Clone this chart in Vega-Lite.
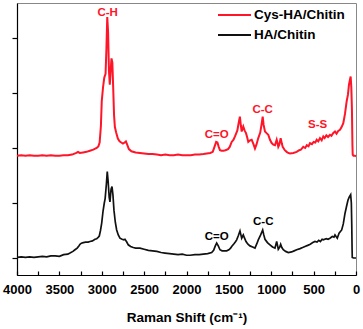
{
  "$schema": "https://vega.github.io/schema/vega-lite/v6.json",
  "width": 339,
  "height": 272,
  "autosize": {"type": "none"},
  "padding": {"left": 17, "top": 3, "right": 7, "bottom": 54},
  "background": "white",
  "config": {
    "font": "Liberation Sans",
    "view": {"stroke": "#888888", "strokeWidth": 1},
    "axis": {"grid": false, "domainColor": "#000000", "domainWidth": 1.2, "tickColor": "#000000", "tickWidth": 1.2}
  },
  "datasets": {
    "red": [
      {"shift":4000,"intensity":1.86},{"shift":3950,"intensity":1.87},{"shift":3900,"intensity":1.86},{"shift":3850,"intensity":1.87},{"shift":3800,"intensity":1.86},{"shift":3750,"intensity":1.86},{"shift":3700,"intensity":1.87},{"shift":3650,"intensity":1.86},{"shift":3600,"intensity":1.87},{"shift":3550,"intensity":1.86},{"shift":3500,"intensity":1.86},{"shift":3450,"intensity":1.87},{"shift":3400,"intensity":1.87},{"shift":3350,"intensity":1.88},{"shift":3300,"intensity":1.91},{"shift":3280,"intensity":1.93},{"shift":3260,"intensity":1.91},{"shift":3220,"intensity":1.92},{"shift":3180,"intensity":1.93},{"shift":3140,"intensity":1.95},{"shift":3100,"intensity":1.97},{"shift":3060,"intensity":2.0},{"shift":3040,"intensity":2.03},{"shift":3025,"intensity":2.1},{"shift":3010,"intensity":2.4},{"shift":3000,"intensity":2.85},{"shift":2985,"intensity":3.1},{"shift":2970,"intensity":3.28},{"shift":2955,"intensity":3.35},{"shift":2945,"intensity":3.8},{"shift":2935,"intensity":4.38},{"shift":2925,"intensity":4.1},{"shift":2915,"intensity":3.4},{"shift":2905,"intensity":3.15},{"shift":2895,"intensity":3.4},{"shift":2885,"intensity":3.63},{"shift":2875,"intensity":3.55},{"shift":2865,"intensity":3.1},{"shift":2855,"intensity":2.6},{"shift":2845,"intensity":2.38},{"shift":2830,"intensity":2.28},{"shift":2810,"intensity":2.17},{"shift":2790,"intensity":2.12},{"shift":2770,"intensity":2.1},{"shift":2750,"intensity":2.08},{"shift":2730,"intensity":2.1},{"shift":2715,"intensity":2.12},{"shift":2700,"intensity":2.06},{"shift":2680,"intensity":1.98},{"shift":2650,"intensity":1.94},{"shift":2600,"intensity":1.92},{"shift":2550,"intensity":1.91},{"shift":2500,"intensity":1.9},{"shift":2450,"intensity":1.89},{"shift":2400,"intensity":1.89},{"shift":2350,"intensity":1.88},{"shift":2300,"intensity":1.87},{"shift":2250,"intensity":1.88},{"shift":2200,"intensity":1.87},{"shift":2150,"intensity":1.87},{"shift":2100,"intensity":1.88},{"shift":2050,"intensity":1.87},{"shift":2000,"intensity":1.87},{"shift":1950,"intensity":1.87},{"shift":1900,"intensity":1.88},{"shift":1850,"intensity":1.88},{"shift":1800,"intensity":1.89},{"shift":1760,"intensity":1.9},{"shift":1720,"intensity":1.91},{"shift":1690,"intensity":1.93},{"shift":1670,"intensity":2.02},{"shift":1650,"intensity":2.11},{"shift":1635,"intensity":2.1},{"shift":1620,"intensity":2.02},{"shift":1605,"intensity":1.96},{"shift":1585,"intensity":1.95},{"shift":1565,"intensity":1.95},{"shift":1540,"intensity":1.96},{"shift":1510,"intensity":1.98},{"shift":1490,"intensity":2.02},{"shift":1467,"intensity":2.11},{"shift":1445,"intensity":2.15},{"shift":1428,"intensity":2.21},{"shift":1410,"intensity":2.28},{"shift":1400,"intensity":2.32},{"shift":1385,"intensity":2.45},{"shift":1370,"intensity":2.57},{"shift":1358,"intensity":2.4},{"shift":1349,"intensity":2.3},{"shift":1340,"intensity":2.34},{"shift":1330,"intensity":2.39},{"shift":1315,"intensity":2.32},{"shift":1298,"intensity":2.27},{"shift":1285,"intensity":2.2},{"shift":1271,"intensity":2.11},{"shift":1250,"intensity":2.14},{"shift":1231,"intensity":2.15},{"shift":1210,"intensity":2.07},{"shift":1192,"intensity":1.99},{"shift":1175,"intensity":2.06},{"shift":1153,"intensity":2.18},{"shift":1130,"intensity":2.28},{"shift":1112,"intensity":2.45},{"shift":1101,"intensity":2.57},{"shift":1090,"intensity":2.42},{"shift":1074,"intensity":2.3},{"shift":1055,"intensity":2.27},{"shift":1035,"intensity":2.24},{"shift":1015,"intensity":2.15},{"shift":995,"intensity":2.09},{"shift":975,"intensity":2.06},{"shift":956,"intensity":2.05},{"shift":936,"intensity":2.15},{"shift":925,"intensity":2.08},{"shift":917,"intensity":2.02},{"shift":905,"intensity":2.06},{"shift":889,"intensity":2.18},{"shift":875,"intensity":2.08},{"shift":865,"intensity":2.02},{"shift":840,"intensity":1.96},{"shift":818,"intensity":1.93},{"shift":800,"intensity":1.91},{"shift":779,"intensity":1.9},{"shift":740,"intensity":1.91},{"shift":700,"intensity":1.93},{"shift":670,"intensity":1.96},{"shift":650,"intensity":1.97},{"shift":622,"intensity":2.02},{"shift":600,"intensity":2.0},{"shift":580,"intensity":2.05},{"shift":560,"intensity":2.03},{"shift":543,"intensity":2.09},{"shift":520,"intensity":2.07},{"shift":500,"intensity":2.11},{"shift":480,"intensity":2.1},{"shift":464,"intensity":2.15},{"shift":445,"intensity":2.12},{"shift":425,"intensity":2.18},{"shift":405,"intensity":2.14},{"shift":386,"intensity":2.21},{"shift":370,"intensity":2.18},{"shift":350,"intensity":2.23},{"shift":330,"intensity":2.2},{"shift":307,"intensity":2.24},{"shift":290,"intensity":2.22},{"shift":270,"intensity":2.27},{"shift":248,"intensity":2.3},{"shift":230,"intensity":2.26},{"shift":210,"intensity":2.31},{"shift":189,"intensity":2.33},{"shift":170,"intensity":2.38},{"shift":150,"intensity":2.45},{"shift":130,"intensity":2.62},{"shift":110,"intensity":2.85},{"shift":95,"intensity":2.97},{"shift":83,"intensity":3.15},{"shift":70,"intensity":3.25},{"shift":63,"intensity":3.3},{"shift":55,"intensity":3.1},{"shift":48,"intensity":2.7},{"shift":42,"intensity":2.05},{"shift":39,"intensity":1.88},{"shift":30,"intensity":1.86},{"shift":15,"intensity":1.86},{"shift":0,"intensity":1.85}
    ],
    "black": [
      {"shift":4000,"intensity":0.01},{"shift":3950,"intensity":0.02},{"shift":3900,"intensity":0.01},{"shift":3850,"intensity":0.02},{"shift":3800,"intensity":0.01},{"shift":3750,"intensity":0.02},{"shift":3700,"intensity":0.03},{"shift":3650,"intensity":0.02},{"shift":3600,"intensity":0.04},{"shift":3550,"intensity":0.04},{"shift":3500,"intensity":0.03},{"shift":3450,"intensity":0.06},{"shift":3400,"intensity":0.07},{"shift":3375,"intensity":0.09},{"shift":3340,"intensity":0.12},{"shift":3316,"intensity":0.15},{"shift":3290,"intensity":0.18},{"shift":3270,"intensity":0.22},{"shift":3257,"intensity":0.25},{"shift":3240,"intensity":0.27},{"shift":3218,"intensity":0.28},{"shift":3190,"intensity":0.29},{"shift":3160,"intensity":0.29},{"shift":3139,"intensity":0.3},{"shift":3110,"intensity":0.31},{"shift":3080,"intensity":0.34},{"shift":3060,"intensity":0.35},{"shift":3040,"intensity":0.38},{"shift":3029,"intensity":0.4},{"shift":3015,"intensity":0.5},{"shift":3001,"intensity":0.63},{"shift":2985,"intensity":0.85},{"shift":2970,"intensity":1.0},{"shift":2960,"intensity":1.08},{"shift":2945,"intensity":1.35},{"shift":2935,"intensity":1.57},{"shift":2925,"intensity":1.4},{"shift":2912,"intensity":1.1},{"shift":2903,"intensity":1.02},{"shift":2890,"intensity":1.25},{"shift":2879,"intensity":1.3},{"shift":2868,"intensity":1.15},{"shift":2856,"intensity":0.87},{"shift":2840,"intensity":0.65},{"shift":2824,"intensity":0.51},{"shift":2805,"intensity":0.42},{"shift":2785,"intensity":0.36},{"shift":2760,"intensity":0.34},{"shift":2740,"intensity":0.33},{"shift":2726,"intensity":0.34},{"shift":2705,"intensity":0.29},{"shift":2687,"intensity":0.24},{"shift":2660,"intensity":0.21},{"shift":2628,"intensity":0.19},{"shift":2600,"intensity":0.18},{"shift":2549,"intensity":0.18},{"shift":2500,"intensity":0.16},{"shift":2450,"intensity":0.14},{"shift":2400,"intensity":0.13},{"shift":2350,"intensity":0.12},{"shift":2300,"intensity":0.1},{"shift":2254,"intensity":0.09},{"shift":2200,"intensity":0.08},{"shift":2150,"intensity":0.07},{"shift":2100,"intensity":0.06},{"shift":2050,"intensity":0.07},{"shift":2000,"intensity":0.05},{"shift":1959,"intensity":0.05},{"shift":1900,"intensity":0.06},{"shift":1850,"intensity":0.06},{"shift":1802,"intensity":0.07},{"shift":1750,"intensity":0.08},{"shift":1703,"intensity":0.1},{"shift":1680,"intensity":0.14},{"shift":1660,"intensity":0.22},{"shift":1644,"intensity":0.27},{"shift":1625,"intensity":0.22},{"shift":1605,"intensity":0.15},{"shift":1580,"intensity":0.13},{"shift":1550,"intensity":0.13},{"shift":1526,"intensity":0.13},{"shift":1500,"intensity":0.15},{"shift":1480,"intensity":0.18},{"shift":1467,"intensity":0.21},{"shift":1440,"intensity":0.26},{"shift":1420,"intensity":0.3},{"shift":1408,"intensity":0.33},{"shift":1390,"intensity":0.4},{"shift":1369,"intensity":0.49},{"shift":1358,"intensity":0.42},{"shift":1349,"intensity":0.36},{"shift":1340,"intensity":0.39},{"shift":1330,"intensity":0.42},{"shift":1315,"intensity":0.36},{"shift":1298,"intensity":0.3},{"shift":1275,"intensity":0.25},{"shift":1251,"intensity":0.22},{"shift":1220,"intensity":0.2},{"shift":1192,"intensity":0.18},{"shift":1170,"intensity":0.26},{"shift":1153,"intensity":0.33},{"shift":1125,"intensity":0.42},{"shift":1101,"intensity":0.51},{"shift":1088,"intensity":0.42},{"shift":1074,"intensity":0.34},{"shift":1045,"intensity":0.28},{"shift":1015,"intensity":0.24},{"shift":985,"intensity":0.2},{"shift":956,"intensity":0.18},{"shift":936,"intensity":0.3},{"shift":925,"intensity":0.22},{"shift":917,"intensity":0.16},{"shift":900,"intensity":0.2},{"shift":889,"intensity":0.25},{"shift":875,"intensity":0.19},{"shift":858,"intensity":0.15},{"shift":830,"intensity":0.12},{"shift":799,"intensity":0.1},{"shift":760,"intensity":0.11},{"shift":730,"intensity":0.13},{"shift":700,"intensity":0.15},{"shift":660,"intensity":0.17},{"shift":630,"intensity":0.19},{"shift":602,"intensity":0.21},{"shift":570,"intensity":0.23},{"shift":540,"intensity":0.25},{"shift":510,"intensity":0.28},{"shift":484,"intensity":0.3},{"shift":460,"intensity":0.29},{"shift":440,"intensity":0.32},{"shift":420,"intensity":0.3},{"shift":400,"intensity":0.34},{"shift":386,"intensity":0.33},{"shift":350,"intensity":0.35},{"shift":330,"intensity":0.34},{"shift":307,"intensity":0.36},{"shift":280,"intensity":0.39},{"shift":260,"intensity":0.38},{"shift":248,"intensity":0.42},{"shift":235,"intensity":0.39},{"shift":221,"intensity":0.36},{"shift":200,"intensity":0.45},{"shift":169,"intensity":0.51},{"shift":150,"intensity":0.62},{"shift":130,"intensity":0.81},{"shift":110,"intensity":0.95},{"shift":95,"intensity":1.05},{"shift":79,"intensity":1.11},{"shift":63,"intensity":1.15},{"shift":55,"intensity":1.0},{"shift":50,"intensity":0.6},{"shift":46,"intensity":0.15},{"shift":44,"intensity":0.01},{"shift":30,"intensity":0.0},{"shift":15,"intensity":0.0},{"shift":0,"intensity":0.0}
    ],
    "redLabels": [
      {"label":"C-H","shift":2930,"intensity":4.46},
      {"label":"C=O","shift":1644,"intensity":2.24},
      {"label":"C-C","shift":1101,"intensity":2.69},
      {"label":"S-S","shift":452,"intensity":2.42}
    ],
    "blackLabels": [
      {"label":"C=O","shift":1644,"intensity":0.39},
      {"label":"C-C","shift":1094,"intensity":0.66}
    ]
  },
  "encoding": {
    "x": {
      "field": "shift", "type": "quantitative",
      "scale": {"domain": [4000, 0], "nice": false, "zero": false},
      "axis": {
        "title": "Raman Shift (cm⁻¹)",
        "values": [4000,3750,3500,3250,3000,2750,2500,2250,2000,1750,1500,1250,1000,750,500,250,0],
        "format": "d",
        "labelExpr": "datum.value % 500 === 0 ? datum.label : ''",
        "tickSize": -4,
        "labelPadding": 12,
        "labelFont": "Liberation Sans", "labelFontWeight": "bold", "labelFontSize": 13, "labelColor": "#000000",
        "labelFlush": false, "labelOverlap": false,
        "titleFont": "Liberation Sans", "titleFontWeight": "bold", "titleFontSize": 13.5, "titleColor": "#000000",
        "titlePadding": 14
      }
    },
    "y": {
      "field": "intensity", "type": "quantitative",
      "scale": {"domain": [-0.309, 4.636], "nice": false, "zero": false},
      "axis": {"title": null, "labels": false, "values": [0, 1, 2, 3, 4], "tickSize": 5}
    }
  },
  "layer": [
    {
      "data": {"name": "red"},
      "mark": {"type": "line", "strokeWidth": 2, "interpolate": "linear"},
      "encoding": {
        "color": {
          "datum": "Cys-HA/Chitin", "type": "nominal",
          "scale": {"domain": ["Cys-HA/Chitin", "HA/Chitin"], "range": ["#FF1428", "#111111"]},
          "legend": {
            "title": null, "orient": "none", "legendX": 200, "legendY": 3,
            "symbolType": "stroke", "symbolSize": 1089, "symbolStrokeWidth": 2,
            "clipHeight": 18, "labelFont": "Liberation Sans", "labelFontWeight": "bold",
            "labelFontSize": 13.5, "labelColor": "#000000", "labelOffset": 2
          }
        }
      }
    },
    {
      "data": {"name": "black"},
      "mark": {"type": "line", "strokeWidth": 1.7, "interpolate": "linear"},
      "encoding": {"color": {"datum": "HA/Chitin", "type": "nominal"}}
    },
    {
      "data": {"name": "redLabels"},
      "mark": {"type": "text", "color": "#FF1428", "font": "Liberation Sans", "fontWeight": "bold", "fontSize": 11.5, "baseline": "middle", "align": "center"},
      "encoding": {"text": {"field": "label"}}
    },
    {
      "data": {"name": "blackLabels"},
      "mark": {"type": "text", "color": "#000000", "font": "Liberation Sans", "fontWeight": "bold", "fontSize": 11.5, "baseline": "middle", "align": "center"},
      "encoding": {"text": {"field": "label"}}
    }
  ]
}
